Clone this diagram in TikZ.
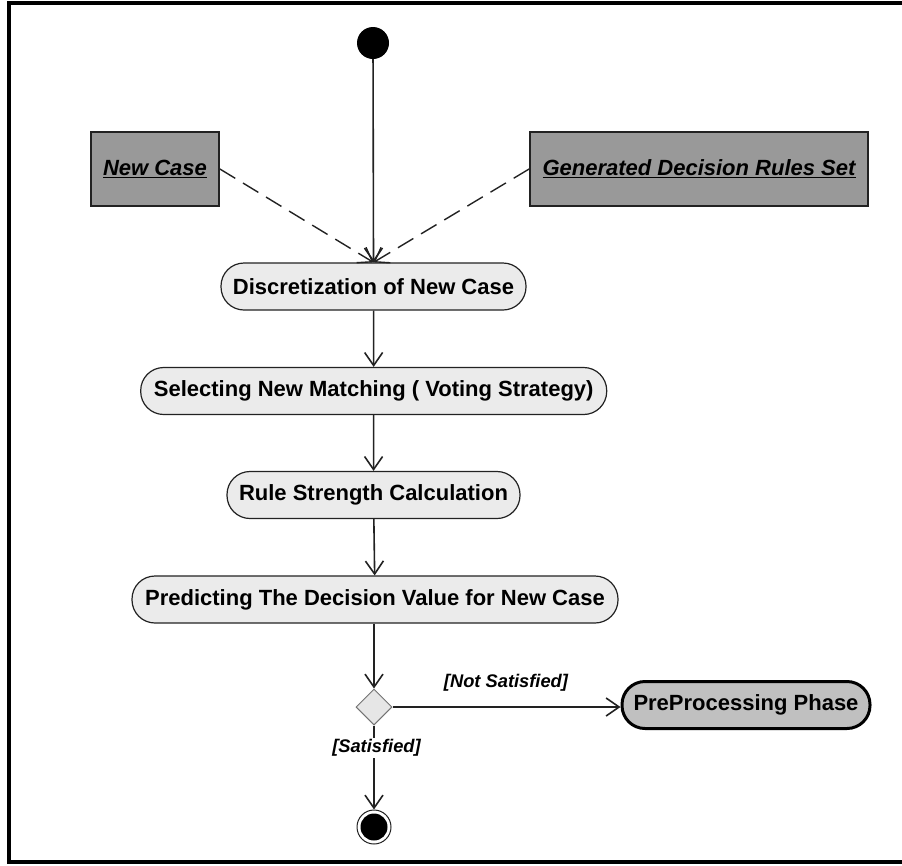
\documentclass[tikz,border=0pt]{standalone}
\usepackage{fontspec}
\setmainfont{Liberation Sans}
\usetikzlibrary{arrows.meta,shapes.geometric}
\definecolor{objfill}{HTML}{999999}
\definecolor{actfill}{HTML}{EBEBEB}
\definecolor{prefill}{HTML}{C0C0C0}
\definecolor{decfill}{HTML}{E6E6E6}
\definecolor{linecol}{HTML}{222222}
\begin{document}
\begin{tikzpicture}[x=1pt,y=-1pt,
  act/.style={draw=linecol, line width=1.2pt, fill=actfill, rounded corners=23pt,
    minimum height=47pt, inner sep=0pt, font=\fontsize{22}{26}\selectfont\bfseries},
  obj/.style={draw=linecol, line width=1.8pt, fill=objfill, minimum height=74pt,
    inner sep=0pt, font=\fontsize{22}{26}\selectfont\bfseries\itshape},
  flow/.style={draw=linecol, line width=1.6pt, -{Straight Barb[length=13pt,width=18pt]}},
  oflow/.style={flow, line width=1.4pt, dash pattern=on 18pt off 9pt},
  guard/.style={font=\fontsize{18.3}{22}\selectfont\bfseries\itshape, inner sep=1pt}
]
\useasboundingbox (0,0) rectangle (902,865);
\clip (0,0) rectangle (902,865);
\draw[line width=3.5pt] (9,3) rectangle (930,862);

\node[circle, fill=black, minimum size=32pt, inner sep=0pt] (start) at (373,43) {};
\node[obj, minimum width=128pt] (newcase) at (155,169) {\underline{New Case}};
\node[obj, minimum width=338pt] (gen) at (699,169) {\underline{Generated Decision Rules Set}};
\node[act, minimum width=305pt] (disc) at (373.5,286.5) {Discretization of New Case};
\node[act, minimum width=466pt] (sel) at (373.7,391) {Selecting New Matching ( Voting Strategy)};
\node[act, minimum width=293pt] (rule) at (373.5,495) {Rule Strength Calculation};
\node[act, minimum width=486pt] (pred) at (375,599.5) {Predicting The Decision Value for New Case};
\node[diamond, draw=black!55, line width=1pt, fill=decfill, minimum width=36pt, minimum height=36pt, inner sep=0pt] (dec) at (374,707) {};
\node[draw=black, line width=3pt, fill=prefill, rounded corners=23pt, minimum width=248pt,
  minimum height=47pt, inner sep=0pt, font=\fontsize{22}{26}\selectfont\bfseries] (pre) at (746,705) {PreProcessing Phase};
\node[circle, draw=linecol, line width=1pt, fill=white, minimum size=34pt, inner sep=0pt] (end) at (374,827) {};
\node[circle, fill=black, minimum size=27pt, inner sep=0pt] (endin) at (end) {};

\draw[flow] (start) -- (disc.north);
\draw[oflow] (newcase.east) -- (disc.north);
\draw[oflow] (gen.west) -- (disc.north);
\draw[flow] (disc) -- (sel);
\draw[flow] (sel) -- (rule);
\draw[flow] (rule) -- (pred);
\draw[flow] (pred.south -| dec.north) -- (dec.north);
\draw[flow] (dec.east) -- (pre.west |- dec.east);
\draw[flow] (dec.south) -- (end.north);

\node[guard] (nsat) at (506,683) {[Not Satisfied]};
\node[guard, fill=white] (sat) at (376.5,748) {[Satisfied]};
\end{tikzpicture}
\end{document}
